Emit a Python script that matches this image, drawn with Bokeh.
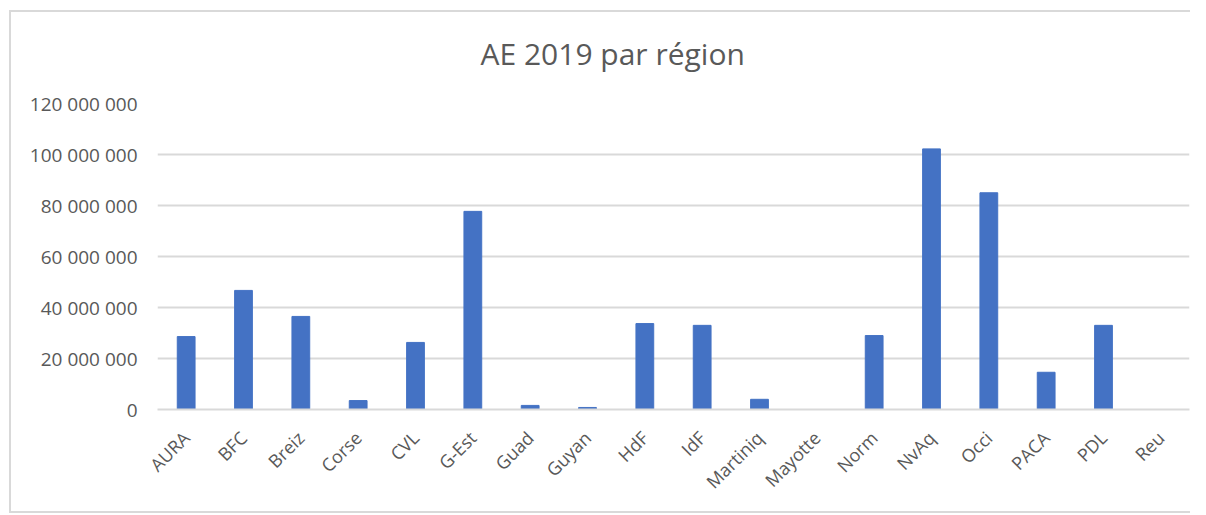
from bokeh.plotting import figure
from bokeh.models import FixedTicker, CustomJSTickFormatter, Title
from bokeh.embed import file_html
from bokeh.resources import INLINE
import math

regions = ["AURA", "BFC", "Breiz", "Corse", "CVL", "G-Est", "Guad", "Guyan", "HdF",
           "IdF", "Martiniq", "Mayotte", "Norm", "NvAq", "Occi", "PACA", "PDL", "Reu"]
ae_2019 = [28600000, 46700000, 36500000, 3500000, 26300000, 77700000, 1600000, 800000,
           33700000, 33000000, 4000000, 0, 29000000, 102200000, 85000000, 14600000,
           33000000, 0]
y_ticks = [0, 20000000, 40000000, 60000000, 80000000, 100000000, 120000000]
title_text = "AE 2019 par région"

FONT = "Open Sans"
GRAY = "#595959"

p = figure(x_range=regions, y_range=(0, 120000000), width=1181, height=503,
           output_backend="svg", toolbar_location=None,
           min_border_left=146, min_border_right=3, min_border_top=91,
           min_border_bottom=106)
p.margin = (10, 0, 0, 9)
p.styles = {"border-left": "2px solid #d9d9d9", "border-top": "2px solid #d9d9d9",
            "border-bottom": "2px solid #d9d9d9"}

p.vbar(x=regions, top=ae_2019, width=0.31, color="#4472C4")

# spacer panel between frame and title, then the title itself
p.add_layout(Title(text=" ", text_font_size="1px", text_color="white", standoff=27), "above")
p.add_layout(Title(text=title_text, text_font=FONT, text_font_size="30px",
                   text_font_style="normal", text_color=GRAY, align="left",
                   offset=323, standoff=0), "above")

p.outline_line_color = None
p.xgrid.grid_line_color = None
p.ygrid.grid_line_color = "#d9d9d9"
p.ygrid.grid_line_width = 2

p.yaxis.ticker = FixedTicker(ticks=y_ticks)
p.yaxis.formatter = CustomJSTickFormatter(
    code="return tick.toFixed(0).replace(/\\B(?=(\\d{3})+(?!\\d))/g, ' ');")
p.yaxis.axis_line_color = None
p.yaxis.major_tick_line_color = None
p.yaxis.minor_tick_line_color = None
p.yaxis.major_label_text_font = FONT
p.yaxis.major_label_text_font_size = "19px"
p.yaxis.major_label_text_color = GRAY
p.yaxis.major_label_standoff = 14

p.xaxis.axis_line_color = "#d9d9d9"
p.xaxis.axis_line_width = 2
p.xaxis.major_tick_line_color = None
p.xaxis.minor_tick_line_color = None
p.xaxis.major_label_orientation = math.pi / 4
p.xaxis.major_label_text_font = FONT
p.xaxis.major_label_text_font_size = "18px"
p.xaxis.major_label_text_color = GRAY
p.xaxis.major_label_standoff = 19

p.x_range.range_padding = 0

open("out.html", "w").write(file_html(p, INLINE))
